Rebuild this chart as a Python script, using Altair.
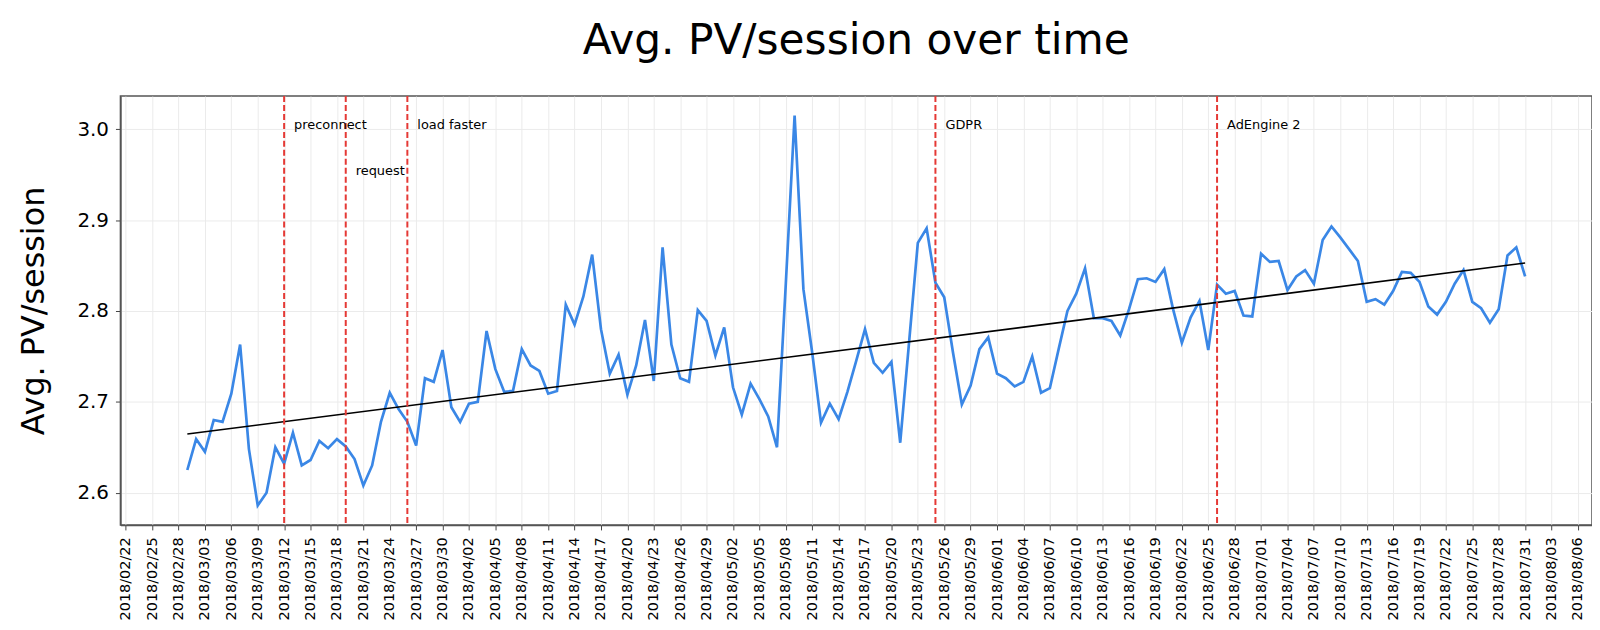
import altair as alt
import pandas as pd

# ---------------- data ----------------
start_date = "2018-03-01"
end_date = "2018-07-31"

pv_per_session = [
    2.625, 2.659, 2.645, 2.680, 2.678, 2.709, 2.763, 2.648, 2.586, 2.600,
    2.650, 2.632, 2.666, 2.630, 2.636, 2.657, 2.649, 2.659, 2.651, 2.637,
    2.608, 2.630, 2.678, 2.710, 2.692, 2.678, 2.652, 2.726, 2.722, 2.757,
    2.694, 2.678, 2.698, 2.700, 2.778, 2.736, 2.711, 2.712, 2.758, 2.740,
    2.734, 2.709, 2.712, 2.807, 2.785, 2.816, 2.862, 2.780, 2.731, 2.752,
    2.708, 2.740, 2.790, 2.723, 2.870, 2.763, 2.726, 2.722, 2.801, 2.789,
    2.751, 2.782, 2.716, 2.686, 2.720, 2.703, 2.684, 2.650, 2.830, 3.015,
    2.824, 2.754, 2.677, 2.698, 2.681, 2.711, 2.745, 2.780, 2.743, 2.732,
    2.744, 2.655, 2.765, 2.875, 2.891, 2.831, 2.815, 2.754, 2.697, 2.718,
    2.758, 2.771, 2.731, 2.726, 2.717, 2.722, 2.750, 2.710, 2.715, 2.758,
    2.800, 2.819, 2.847, 2.792, 2.792, 2.789, 2.773, 2.802, 2.835, 2.836,
    2.832, 2.846, 2.802, 2.765, 2.793, 2.811, 2.757, 2.829, 2.819, 2.822,
    2.795, 2.794, 2.863, 2.854, 2.855, 2.823, 2.838, 2.845, 2.830, 2.878,
    2.893, 2.881, 2.868, 2.855, 2.810, 2.813, 2.807, 2.822, 2.843, 2.842,
    2.832, 2.805, 2.796, 2.810, 2.830, 2.845, 2.810, 2.803, 2.787, 2.802,
    2.861, 2.870, 2.838,
]

event_dates = ["2018-03-12", "2018-03-19", "2018-03-26", "2018-05-25", "2018-06-26"]
event_labels = ["preconnect", "request", "load faster", "GDPR", "AdEngine 2"]
event_label_y = [3.0, 2.95, 3.0, 3.0, 3.0]

tick_start = "2018-02-22"
tick_end = "2018-08-06"
y_ticks = [2.6, 2.7, 2.8, 2.9, 3.0]


def to_ms(ts):
    return int(pd.Timestamp(ts).value // 10**6)


dates = pd.date_range(start_date, end_date, freq="D")
df = pd.DataFrame({"t": [to_ms(d) for d in dates], "value": pv_per_session})
events = pd.DataFrame({
    "t": [to_ms(d) for d in event_dates],
    "label": event_labels,
    "ly": event_label_y,
})
x_ticks = [to_ms(d) for d in pd.date_range(tick_start, tick_end, freq="3D")]

# matplotlib-style 5% margins
t0, t1 = df["t"].min(), df["t"].max()
x_dom = [t0 - 0.05 * (t1 - t0), t1 + 0.05 * (t1 - t0)]
v0, v1 = min(pv_per_session), max(pv_per_session)
y_dom = [v0 - 0.05 * (v1 - v0), v1 + 0.05 * (v1 - v0)]

FONT = "DejaVu Sans"

x_enc = alt.X(
    "t:T",
    scale=alt.Scale(type="utc", domain=x_dom),
    axis=alt.Axis(
        values=x_ticks, tickCount=200, format="%Y/%m/%d", labelAngle=270,
        labelFontSize=14.5, labelFont=FONT, labelColor="black", tickSize=5,
        tickColor="#444", labelPadding=7, grid=True, gridColor="#ebebeb",
        domainColor="#555", domainWidth=1.5, labelOverlap=False, labelFlush=False,
    ),
    title=None,
)
y_scale = alt.Scale(domain=y_dom, nice=False, zero=False)
y_enc = alt.Y(
    "value:Q",
    scale=y_scale,
    axis=alt.Axis(
        values=y_ticks, format=".1f", labelFontSize=20, labelFont=FONT,
        labelColor="black", tickSize=5, tickColor="#444", labelPadding=7,
        grid=True, gridColor="#ebebeb", domainColor="#555", domainWidth=1.5,
        title="Avg. PV/session", titleFontSize=32, titleFont=FONT,
        titleFontWeight="normal", titleColor="black", titlePadding=27,
    ),
)

base = alt.Chart(df)

line = base.mark_line(color="#3a87e6", strokeWidth=2.7).encode(x=x_enc, y=y_enc)

trend = base.transform_regression("t", "value").mark_line(
    color="black", strokeWidth=1.6
).encode(x="t:T", y="value:Q")

rules = alt.Chart(events).mark_rule(
    color="#e53935", strokeDash=[6, 3], strokeWidth=2
).encode(x="t:T")

labels = alt.Chart(events).mark_text(
    align="left", baseline="alphabetic", dx=10, fontSize=13, font=FONT, color="black"
).encode(x="t:T", y=alt.Y("ly:Q", scale=y_scale), text="label:N")

chart = alt.layer(line, trend, rules, labels).properties(
    width=1479,
    height=431,
    title=alt.TitleParams(
        "Avg. PV/session over time", fontSize=42.5, font=FONT,
        fontWeight="normal", color="black", anchor="middle", offset=33,
    ),
    autosize=alt.AutoSizeParams(type="none"),
    padding={"left": 113, "top": 87, "right": 0, "bottom": 94},
).configure_view(stroke="#555", strokeWidth=1.5)

chart.save("out.html", embed_options={"renderer": "svg", "actions": False})
